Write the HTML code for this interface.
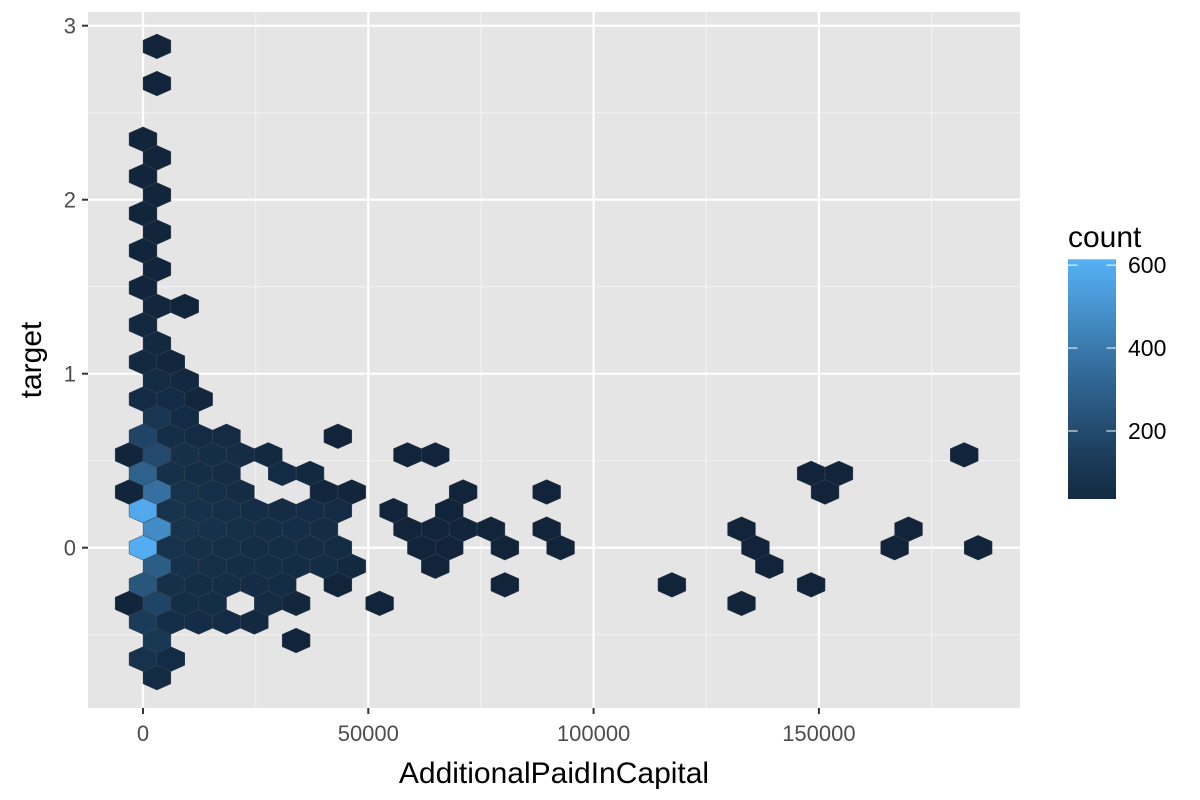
<!DOCTYPE html>
<html><head><meta charset="utf-8"><style>
body{margin:0;background:#fff;}
svg{display:block;font-family:"Liberation Sans",Arial,sans-serif;}
</style></head><body>
<svg id="chart" width="1200" height="800" viewBox="0 0 1200 800" xmlns="http://www.w3.org/2000/svg">
<rect x="0" y="0" width="1200" height="800" fill="#fff"/>
<rect x="88" y="12" width="932" height="696" fill="#e5e5e5"/>
<g id="grid"></g>
<g id="hexes"></g>
<g id="axes"></g>
<text x="554" y="783" font-size="30" text-anchor="middle" fill="#000">AdditionalPaidInCapital</text>
<text x="0" y="0" font-size="30" text-anchor="middle" fill="#000" transform="translate(41,360) rotate(-90)">target</text>
<g id="legend">
<text x="1068" y="247" font-size="30" fill="#000">count</text>
</g>
</svg>
<script>
const xTicks = [0, 50000, 100000, 150000];
const xTickLabels = ["0", "50000", "100000", "150000"];
const yTicks = [0, 1, 2, 3];
const yTickLabels = ["0", "1", "2", "3"];
const legendTicks = [200, 400, 600];
const countRange = [36, 614];
const binWidth = 6178;
const binHeight = 0.1067;
// hex bins: row index, column index, count
const binRow = [27,25,22,21,20,19,18,17,16,15,14,13,13,12,11,10,10,9,9,8,8,8,7,7,
 6,6,6,6,6, 5,5,5,5,5,5,5,5,5, 4,4,4,4,4,4,4,4, 3,3,3,3,3,3,3,3,3,3,
 2,2,2,2,2,2,2,2,2,2, 1,1,1,1,1,1,1,1,1,1,1,1,1,1, 0,0,0,0,0,0,0,0,0,0,0,0,0,0,0,
 -1,-1,-1,-1,-1,-1,-1,-1,-1,-1, -2,-2,-2,-2,-2,-2,-2,-2,-2,-2, -3,-3,-3,-3,-3,-3,-3,-3,
 -4,-4,-4,-4,-4, -5,-5, -6,-6, -7];
const binCol = [1,1,0,1,0,1,0,1,0,1,0,1,2,0,1,0,1,1,2,0,1,2,1,2,
 0,1,2,3,7, 0,1,2,3,4,5,10,11,30, 0,1,2,3,5,6,24,25, 0,1,2,3,4,7,8,12,15,25,
 0,1,2,3,4,5,6,7,9,11, 1,2,3,4,5,6,7,10,11,12,13,15,22,28, 0,1,2,3,4,5,6,7,10,11,13,15,22,27,30,
 1,2,3,4,5,6,7,8,11,23, 0,1,2,3,4,5,7,13,19,24, 0,1,2,3,5,6,9,22,
 0,1,2,3,4, 1,6, 0,1, 1];
const binCount = [15,15,20,20,20,20,20,20,20,22,22,25,18,28,30,30,25,35,30,40,40,25,100,40,
 170,55,40,35,15, 20,200,70,55,45,30,15,15,15, 300,70,55,50,40,30,15,15, 20,360,80,65,50,25,20,15,15,15,
 580,90,75,65,55,50,45,35,15,15, 470,85,75,65,60,55,50,15,20,15,15,15,15,15, 600,80,70,65,60,55,50,35,15,15,15,15,15,15,15,
 280,75,65,60,55,50,45,30,15,15, 250,70,60,55,45,35,15,15,15,15, 20,170,60,55,35,25,15,15,
 130,60,45,40,30, 110,15, 80,40, 35];

const NS = "http://www.w3.org/2000/svg";
const px0 = 143, pxPer = 225.3 / 50000;
const py0 = 547.7, pyPer = 174;
function xScale(v){ return px0 + v * pxPer; }
function yScale(v){ return py0 - v * pyPer; }
function mk(tag, attrs, parent){ const e = document.createElementNS(NS, tag); for (const k in attrs) e.setAttribute(k, attrs[k]); parent.appendChild(e); return e; }
function lerpColor(t){
  t = Math.max(0, Math.min(1, t));
  const a = [19,43,67], b = [86,177,247];
  const c = a.map((v,i)=>Math.round(v + (b[i]-v)*Math.pow(t,1.15)));
  return "rgb(" + c.join(",") + ")";
}
function colorFor(n){
  if (n < countRange[0]) {
    const f = Math.max(0, n / countRange[0]);
    const a = [15,31,49], b = [19,43,67];
    return "rgb(" + a.map((v,i)=>Math.round(v + (b[i]-v)*f)).join(",") + ")";
  }
  return lerpColor((n - countRange[0]) / (countRange[1] - countRange[0]));
}

const grid = document.getElementById("grid");
[-1,1,3,5,7].forEach(m => {
  const x = xScale(m * 25000);
  if (x > 88 && x < 1020) { const l = mk("line", {x1:x, x2:x, y1:12, y2:708, stroke:"#f2f2f2", "stroke-width":1.1}, grid);
    
     }
});
[-0.5,0.5,1.5,2.5].forEach(m => {
  const y = yScale(m);
  const l = mk("line", {x1:88, x2:1020, y1:y, y2:y, stroke:"#f2f2f2", "stroke-width":1.1}, grid);
  
  
});
const axes = document.getElementById("axes");
xTicks.forEach((t,i) => {
  const x = xScale(t);
  const l = mk("line", {x1:x, x2:x, y1:12, y2:708, stroke:"#fff", "stroke-width":2.2}, grid);
  
  
  const tk = mk("line", {x1:x, x2:x, y1:708, y2:714, stroke:"#333", "stroke-width":2}, axes);
  
  
  const tx = mk("text", {x:x, y:741, "font-size":22, fill:"#4d4d4d", "text-anchor":"middle"}, axes);
  tx.textContent = xTickLabels[i];
  
  
});
yTicks.forEach((t,i) => {
  const y = yScale(t);
  const l = mk("line", {x1:88, x2:1020, y1:y, y2:y, stroke:"#fff", "stroke-width":2.2}, grid);
  
  
  const tk = mk("line", {x1:82, x2:88, y1:y, y2:y, stroke:"#333", "stroke-width":2}, axes);
  
  
  const tx = mk("text", {x:76, y:y+8, "font-size":22, fill:"#4d4d4d", "text-anchor":"end"}, axes);
  tx.textContent = yTickLabels[i];
  
  
});

const hg = document.getElementById("hexes");
const hw = binWidth * pxPer / 2, hh = binHeight * pyPer / 1.5;
for (let i = 0; i < binRow.length; i++) {
  const r = binRow[i];
  const xv = (binCol[i] - (Math.abs(r) % 2 ? 0.5 : 0)) * binWidth;
  const yv = r * binHeight;
  const cx = xScale(xv), cy = yScale(yv);
  const pts = [[0,-hh],[hw,-hh/2],[hw,hh/2],[0,hh],[-hw,hh/2],[-hw,-hh/2]]
    .map(p => (cx+p[0]).toFixed(2) + "," + (cy+p[1]).toFixed(2)).join(" ");
  const c = colorFor(binCount[i]);
  const h = mk("polygon", {points:pts, fill:c, stroke:"#3a4452", "stroke-width":0.5}, hg);
  
  
}

const lg = document.getElementById("legend");
const defs = mk("defs", {}, lg);
const grad = mk("linearGradient", {id:"cbar", x1:0, y1:1, x2:0, y2:0}, defs);
for (let s = 0; s <= 10; s++) mk("stop", {offset: s/10, "stop-color": lerpColor(s/10)}, grad);
const barTop = 259.3, barBot = 499, barL = 1068, barR = 1116;
const bar = mk("rect", {x:barL, y:barTop, width:barR-barL, height:barBot-barTop, fill:"url(#cbar)"}, lg);


function legY(v){ return barBot - (v - countRange[0]) / (countRange[1] - countRange[0]) * (barBot - barTop); }
legendTicks.forEach(t => {
  const y = legY(t);
  const a = mk("line", {x1:barL, x2:barL+9.6, y1:y, y2:y, stroke:"#fff", "stroke-width":1}, lg);
  
  
  const b = mk("line", {x1:barR-9.6, x2:barR, y1:y, y2:y, stroke:"#fff", "stroke-width":1}, lg);
  
  
  const tx = mk("text", {x:1128, y:y+8, "font-size":23, fill:"#000"}, lg);
  tx.textContent = String(t);
  
  
});
</script>
</body></html>
